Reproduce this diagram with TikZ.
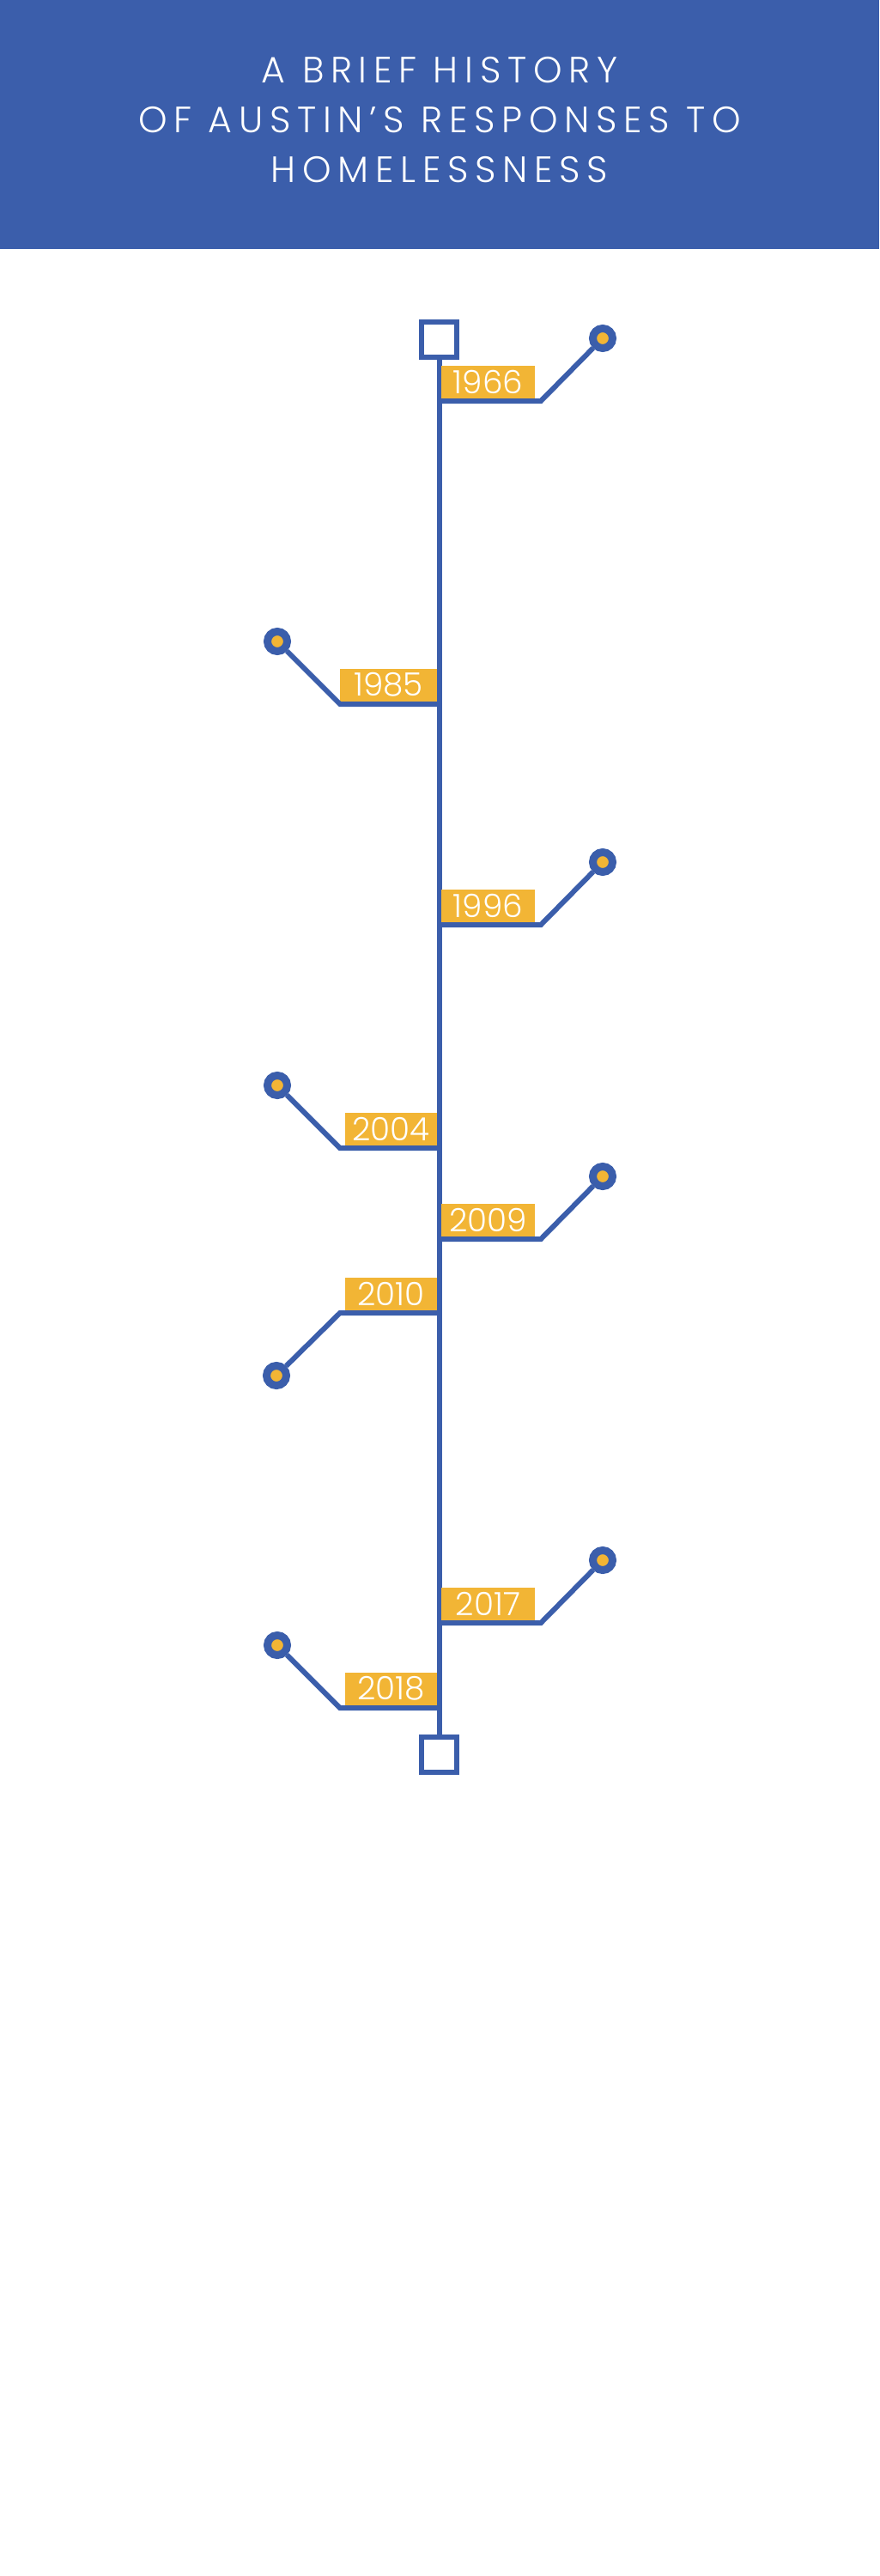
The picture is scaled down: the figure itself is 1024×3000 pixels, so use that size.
\documentclass[tikz,border=0pt]{standalone}
\usepackage{fontspec}
\newfontfamily\titlefont[LetterSpace=18]{Poppins Light}
\newfontfamily\yearfont{Poppins Light}
\definecolor{hblue}{HTML}{3B5EAB}
\definecolor{hyellow}{HTML}{F2B535}
\begin{document}
\begin{tikzpicture}[x=0.75pt,y=-0.75pt,
  title/.style={text=white,font=\titlefont\fontsize{32}{38}\selectfont,anchor=base,inner sep=0pt},
  spine/.style={draw=hblue,line width=4.5pt},
  endsq/.style={draw=hblue,line width=4.5pt,fill=white,minimum size=30.75pt,inner sep=0pt,rectangle},
  branch/.style={draw=hblue,line width=4.5pt},
  dot/.style={circle,fill=hyellow,draw=hblue,line width=6.75pt,minimum size=17.25pt,inner sep=0pt},
  rbox/.style={fill=hyellow,minimum width=81.75pt,minimum height=28.5pt,inner sep=0pt,text=white,font=\yearfont\fontsize{28}{30}\selectfont},
  lbox/.style={rbox,minimum width=80.25pt}
]
\useasboundingbox (0,0) rectangle (1024,3000);
\fill[hblue] (0,0) rectangle (1024,290);
\node[title] (t1) at (512,97) {A BRIEF HISTORY};
\node[title] (t2) at (512,155) {OF AUSTIN’S RESPONSES TO};
\node[title] (t3) at (512,213) {HOMELESSNESS};

% spine
\node[endsq] (top) at (511.5,395) {};
\node[endsq] (bot) at (511.5,2043.5) {};
\draw[spine] (top.south) -- (bot.north);

% right events
\foreach \n/\y/\yr in {a/467/1966,c/1077/1996,e/1443/2009,g/1890/2017}{
  \node[rbox] (box\n) at (568.5,\y-22.5) {\yr};
  \coordinate (s\n) at (512,\y);
  \coordinate (k\n) at (630,\y);
  \node[dot] (d\n) at (702,\y-73) {};
  \draw[branch] (s\n) -- (k\n) -- (d\n);
}
% left events going up
\foreach \n/\y/\yr in {d/1337/2004,h/1989/2018}{
  \node[lbox] (box\n) at (455.5,\y-22.5) {\yr};
  \coordinate (s\n) at (512,\y);
  \coordinate (k\n) at (396,\y);
  \node[dot] (d\n) at (323,\y-73) {};
  \draw[branch] (s\n) -- (k\n) -- (d\n);
}
\node[lbox,minimum width=84.75pt] (boxb) at (452.5,820-22.5) {1985};
\coordinate (sb) at (512,820);
\coordinate (kb) at (396,820);
\node[dot] (db) at (323,747) {};
\draw[branch] (sb) -- (kb) -- (db);
% left event going down
\node[lbox] (boxf) at (455.5,1529-22.5) {2010};
\coordinate (sf) at (512,1529);
\coordinate (kf) at (396,1529);
\node[dot] (df) at (322,1602) {};
\draw[branch] (sf) -- (kf) -- (df);
\end{tikzpicture}
\end{document}
